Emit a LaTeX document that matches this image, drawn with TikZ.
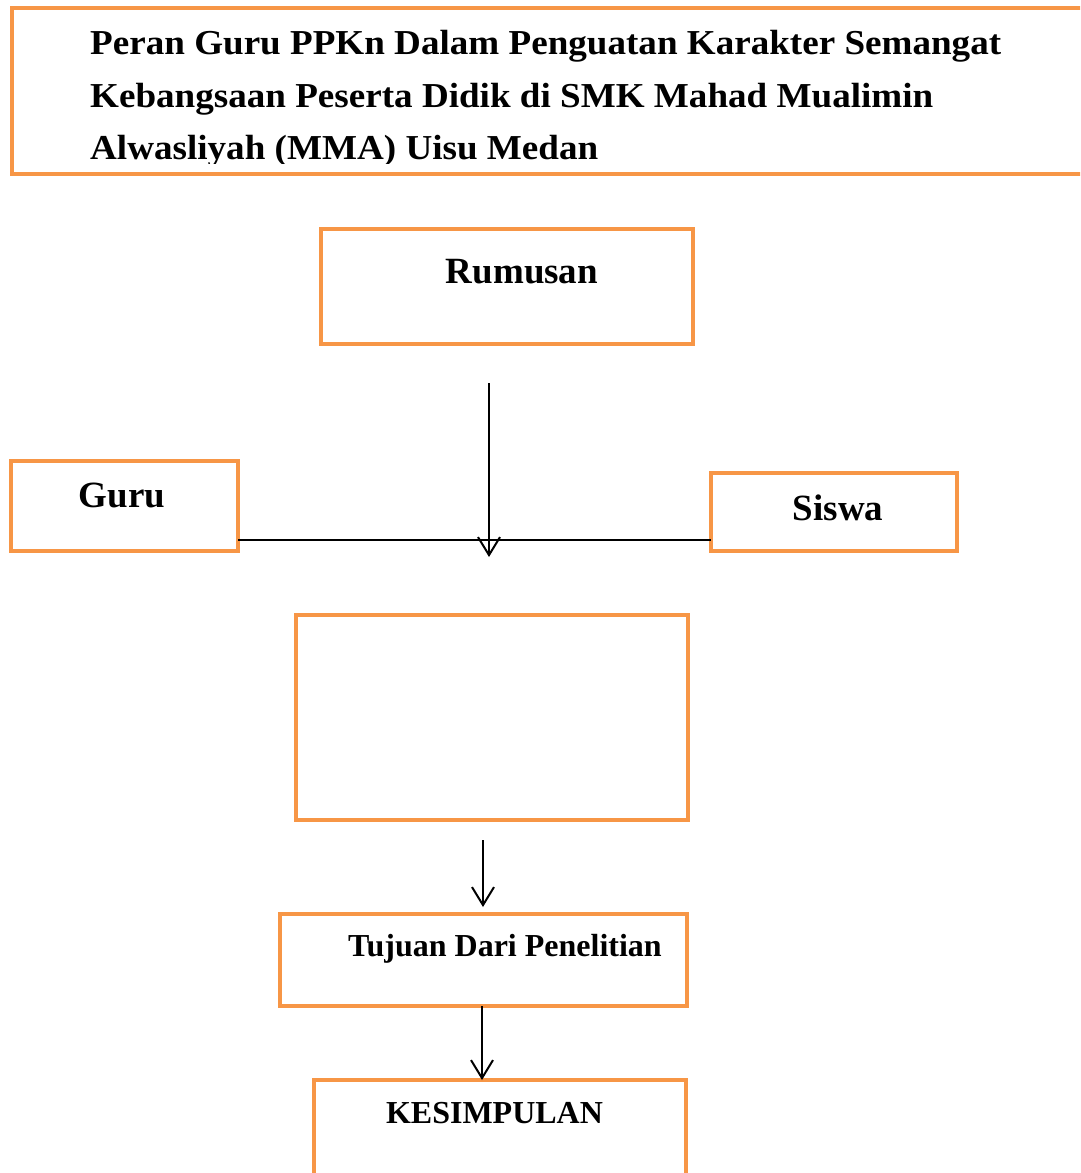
\documentclass[tikz,border=0pt]{standalone}
\usepackage{fontspec}
\setmainfont{Liberation Serif}
\newfontfamily\titlefont[FakeStretch=1.06]{Liberation Serif}
\usetikzlibrary{arrows.meta}
\definecolor{boxorange}{RGB}{247,150,70}
\tikzset{
  box/.style={draw=boxorange, line width=4pt, rectangle, inner sep=0pt, outer sep=0pt, fill=white},
  bigtxt/.style={font=\bfseries\fontsize{37}{40}\selectfont, inner sep=0pt},
  midtxt/.style={font=\bfseries\fontsize{32}{36}\selectfont, inner sep=0pt},
  titletxt/.style={font=\titlefont\bfseries\fontsize{35}{40}\selectfont, inner sep=0pt, anchor=base west},
  conn/.style={line width=2pt, draw=black},
  arr/.style={conn, -{Straight Barb[length=18pt,width=22pt,line width=2pt]}}
}
\begin{document}
\begin{tikzpicture}[x=1pt,y=-1pt]
\clip (0,0) rectangle (1080,1173);
\fill[white] (0,0) rectangle (1080,1173);
% title
\node[box, minimum width=1088pt, minimum height=166pt] (title) at (556,91) {};
\node[titletxt] (t1) at (90,54) {Peran Guru PPKn Dalam Penguatan Karakter Semangat};
\node[titletxt] (t2) at (90,107) {Kebangsaan Peserta Didik di SMK Mahad Mualimin};
\begin{scope}
\clip (0,0) rectangle (1080,163);
\node[titletxt] (t3) at (90,159) {Alwasliyah (MMA) Uisu Medan};
\end{scope}
% boxes
\node[box, minimum width=372pt, minimum height=115pt] (rum) at (507,286.5) {};
\node[bigtxt, anchor=base] (rumt) at (522,283) {Rumusan};
\node[box, minimum width=227pt, minimum height=90pt] (guru) at (124.5,506) {};
\node[bigtxt, anchor=base] (gurut) at (122,507) {Guru};
\node[box, minimum width=246pt, minimum height=78pt] (siswa) at (834,512) {};
\node[bigtxt, anchor=base] (siswat) at (838,520) {Siswa};
\node[box, minimum width=392pt, minimum height=205pt] (mid) at (492,717.5) {};
\node[box, minimum width=407pt, minimum height=92pt] (tuj) at (483.5,960) {};
\node[midtxt, anchor=base] (tujt) at (505,956) {Tujuan Dari Penelitian};
\node[box, minimum width=372pt, minimum height=120pt] (kes) at (500,1140) {};
\node[midtxt, anchor=base] (kest) at (494.5,1123) {KESIMPULAN};
% connectors
\coordinate (a1s) at (489,383);
\coordinate (a1e) at (489,557);
\draw[conn, line width=2.5pt] (guru.east |- 0,540) -- (siswa.west |- 0,540);
\draw[arr] (a1s) -- (a1e);
\coordinate (a2s) at (483,840);
\coordinate (a2e) at (483,907);
\draw[arr] (a2s) -- (a2e);
\draw[arr] (tuj.south -| 482,0) -- (kes.north -| 482,0);
\end{tikzpicture}
\end{document}
